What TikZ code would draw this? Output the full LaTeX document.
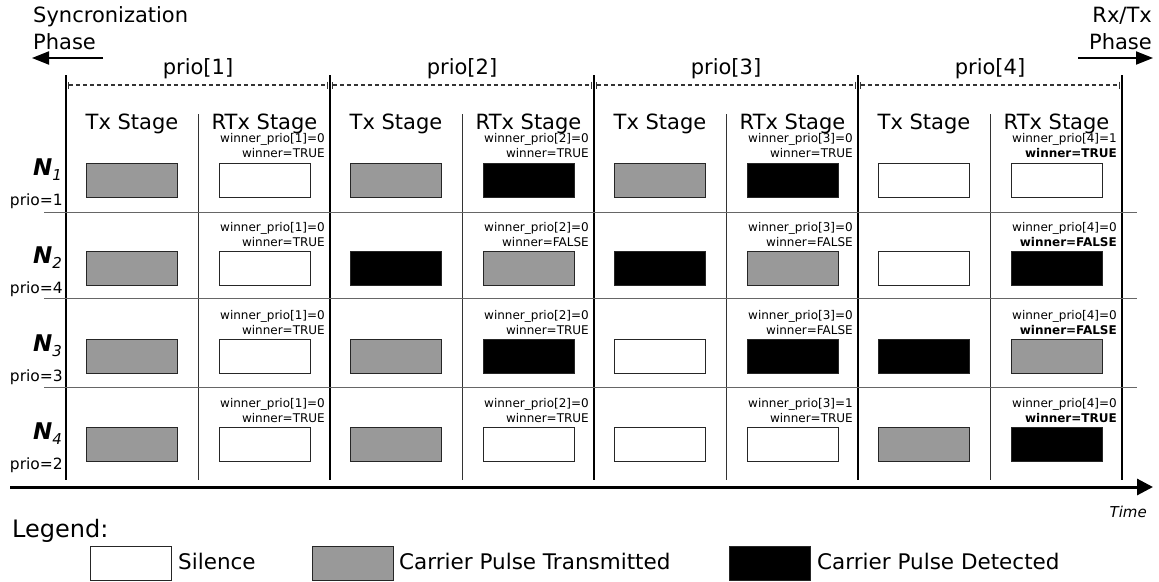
\documentclass[tikz,border=0pt]{standalone}
\usepackage{fontspec}
\setmainfont{DejaVu Sans}
\usetikzlibrary{arrows.meta}
\definecolor{pgray}{RGB}{153,153,153}
\begin{document}
\begin{tikzpicture}[x=1pt,y=-1pt,
  cell/.style={draw=black!85, line width=0.9pt, minimum width=91pt, minimum height=34pt, inner sep=0pt},
  legbox/.style={draw=black!85, line width=0.9pt, minimum width=81pt, minimum height=34pt, inner sep=0pt},
  big/.style={font=\fontsize{21}{21}\selectfont, inner sep=0pt},
  leg/.style={font=\fontsize{21.5}{21.5}\selectfont, inner sep=0pt, anchor=base west},
  wlab/.style={font=\fontsize{12}{15}\selectfont, align=right, anchor=east, inner sep=0pt},
  plab/.style={font=\fontsize{15.5}{15.5}\selectfont, inner sep=0pt, anchor=base east},
  nlab/.style={font=\fontsize{23}{23}\selectfont\bfseries\itshape, inner sep=0pt, anchor=base east},
  major/.style={line width=1.8pt},
  minor/.style={line width=0.9pt, draw=black!80},
  rowsep/.style={line width=0.9pt, draw=black!60},
  span/.style={line width=1.1pt, draw=black!80, dash pattern=on 4pt off 3pt, {Bar[width=7pt]}-{Bar[width=7pt]}},
  phase/.style={line width=2pt, -{Triangle[length=17pt,width=13pt]}},
]
\useasboundingbox (0,0) rectangle (1159,581);

% phase labels and arrows
\node[big, anchor=base west] (sync1) at (33,22) {Syncronization};
\node[big, anchor=base west] (sync2) at (33,49) {Phase};
\node[big, anchor=base east] (rxtx1) at (1152,22) {Rx/Tx};
\node[big, anchor=base east] (rxtx2) at (1152,49) {Phase};
\coordinate (sa) at (103,58); \coordinate (sb) at (32,58);
\coordinate (ra) at (1078,58); \coordinate (rb) at (1153,58);
\draw[phase] (sa) -- (sb);
\draw[phase] (ra) -- (rb);

% priority spans
\foreach \k in {1,2,3,4}{
  \pgfmathsetmacro\xo{264*(\k-1)}
  \node[big, anchor=base] (prio\k) at (198+\xo,74) {prio[\k]};
  \coordinate (pa\k) at (68+\xo,85);
  \coordinate (pb\k) at (328+\xo,85);
  \draw[span] (pa\k) -- (pb\k);
  \node[big, anchor=base] (htx\k) at (132+\xo,129) {Tx Stage};
  \node[big, anchor=base] (hrx\k) at (264.5+\xo,129) {RTx Stage};
}

% grid lines
\foreach \x in {66,330,594,858,1122}{ \draw[major] (\x,75) -- (\x,480); }
\foreach \x in {198,462,726,990}{ \draw[minor] (\x,114) -- (\x,480); }
\foreach \y in {212,298,387}{ \draw[rowsep] (44,\y) -- (1137,\y); }

% node labels
\foreach \r/\p in {1/1,2/4,3/3,4/2}{
  \pgfmathsetmacro\yy{88.2*(\r-1)}
  \node[nlab] (n\r) at (62,175+\yy) {N\raisebox{-5pt}{\fontsize{15}{15}\selectfont\mdseries\itshape \r}};
  \node[plab] (pr\r) at (63,205+\yy) {prio=\p};
}

% cells
\foreach \r/\k/\ts/\xs/\v/\w in {
 1/1/pgray/white/0/winner=TRUE,
 1/2/pgray/black/0/winner=TRUE,
 1/3/pgray/black/0/winner=TRUE,
 1/4/white/white/1/\textbf{winner=TRUE},
 2/1/pgray/white/0/winner=TRUE,
 2/2/black/pgray/0/winner=FALSE,
 2/3/black/pgray/0/winner=FALSE,
 2/4/white/black/0/\textbf{winner=FALSE},
 3/1/pgray/white/0/winner=TRUE,
 3/2/pgray/black/0/winner=TRUE,
 3/3/white/black/0/winner=FALSE,
 3/4/black/pgray/0/\textbf{winner=FALSE},
 4/1/pgray/white/0/winner=TRUE,
 4/2/pgray/white/0/winner=TRUE,
 4/3/white/white/1/winner=TRUE,
 4/4/pgray/black/0/\textbf{winner=TRUE}}
{
  \pgfmathsetmacro\yy{180+88.2*(\r-1)}
  \pgfmathsetmacro\xo{264*(\k-1)}
  \node[cell, fill=\ts] (tx\r\k) at (132+\xo,\yy) {};
  \node[cell, fill=\xs] (rx\r\k) at (264.5+\xo,\yy) {};
  \node[wlab] (lab\r\k) at (325+\xo,\yy-34) {winner\_prio[\k]=\v\\\w};
}

% time axis
\coordinate (ta) at (10,487);
\coordinate (tb) at (1153,487);
\draw[line width=3pt, -{Triangle[length=16pt,width=16pt]}] (ta) -- (tb);
\node[font=\fontsize{15}{15}\selectfont\itshape, inner sep=0pt, anchor=base east] (time) at (1147,517) {Time};

% legend
\node[font=\fontsize{24}{24}\selectfont, inner sep=0pt, anchor=base west] (legend) at (12,537) {Legend:};
\node[legbox, fill=white, anchor=north west] (lsil) at (90,546) {};
\node[leg] (tsil) at (178,569) {Silence};
\node[legbox, fill=pgray, anchor=north west] (lpul) at (312,546) {};
\node[leg] (tpul) at (399,569) {Carrier Pulse Transmitted};
\node[legbox, fill=black, anchor=north west] (ldet) at (729,546) {};
\node[leg] (tdet) at (817,569) {Carrier Pulse Detected};
\end{tikzpicture}
\end{document}
